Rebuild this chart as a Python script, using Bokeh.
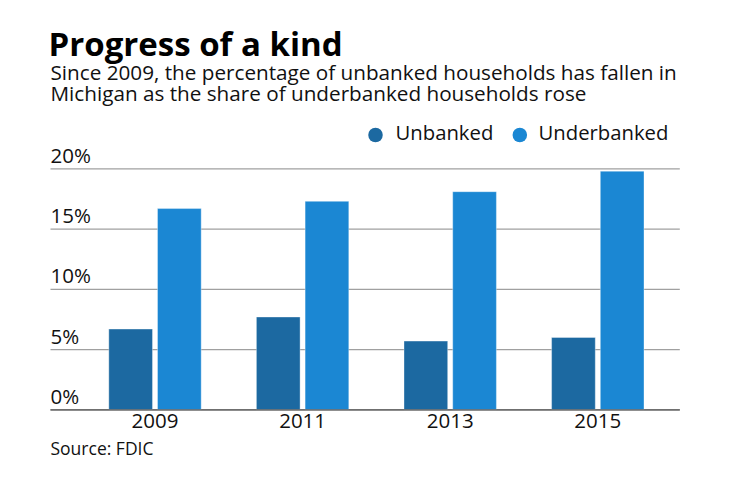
from bokeh.plotting import figure
from bokeh.models import Range1d, ColumnDataSource
from bokeh.core.properties import value
from bokeh.embed import file_html
from bokeh.resources import INLINE

# ---- data ----
years = ["2009", "2011", "2013", "2015"]
unbanked = [6.7, 7.7, 5.7, 6.0]
underbanked = [16.7, 17.3, 18.1, 19.8]
y_ticks = [0, 5, 10, 15, 20]
y_tick_labels = ["0%", "5%", "10%", "15%", "20%"]
series_names = ["Unbanked", "Underbanked"]
title_text = "Progress of a kind"
subtitle_lines = ["Since 2009, the percentage of unbanked households has fallen in",
                  "Michigan as the share of underbanked households rose"]
source_text = "Source: FDIC"

# ---- layout (screenshot pixel geometry) ----
W, H = 724, 466
GROUP0_PX = 154.5     # screenshot x of first group centre
GROUP_STEP = 147.6    # px per group
ZERO_PX = 409.3       # screenshot y of 0%
PX_PER_PCT = 12.05
SHIFT = 9             # correction for rendered text baseline position

def sx(px):
    return (px - GROUP0_PX) / GROUP_STEP

def sy_raw(py):
    return (ZERO_PX - py) / PX_PER_PCT

def sy(py):  # for text baselines
    return sy_raw(py - SHIFT)

FONT = "Open Sans"
C_UNB = "#1c69a1"
C_UND = "#1b87d3"
TEXT_C = "#111111"

p = figure(width=W, height=H, output_backend="svg", toolbar_location=None,
           x_range=Range1d(sx(0), sx(W)), y_range=Range1d(sy_raw(H), sy_raw(0)),
           x_axis_location=None, y_axis_location=None, min_border=0)
p.outline_line_color = None
p.grid.visible = False
p.background_fill_color = "white"
p.border_fill_color = "white"

x_left, x_right = sx(50), sx(679.3)
idx = list(range(len(years)))

# gridlines
grid_src = ColumnDataSource(dict(x0=[x_left] * len(y_ticks), x1=[x_right] * len(y_ticks),
                                 y=y_ticks,
                                 color=["#666666"] + ["#a0a0a0"] * (len(y_ticks) - 1)))
p.segment(x0="x0", x1="x1", y0="y", y1="y", color="color", line_width=1.3, source=grid_src)

# bars
bw = 0.296
off = 0.165
p.vbar(x=[i - off for i in idx], top=unbanked, bottom=0, width=bw,
       fill_color=C_UNB, line_color="white", line_alpha=0.35, line_width=1)
p.vbar(x=[i + off for i in idx], top=underbanked, bottom=0, width=bw,
       fill_color=C_UND, line_color="white", line_alpha=0.35, line_width=1)

# zero baseline over bars
p.segment(x0=[x_left], x1=[x_right], y0=[0], y1=[0], color="#666666", line_width=1.3)

# y tick labels (baseline ~5px above each gridline)
p.text(x=[sx(50)] * len(y_ticks), y=y_ticks, text=y_tick_labels, y_offset=-5 - SHIFT,
       text_font=value(FONT), text_font_size="20.5px", text_color=TEXT_C,
       text_align="left", text_baseline="alphabetic")

# x tick labels (baseline ~20px below zero)
p.text(x=idx, y=[0] * len(idx), text=years, y_offset=20 - SHIFT,
       text_font=value(FONT), text_font_size="20.5px", text_color=TEXT_C,
       text_align="center", text_baseline="alphabetic")

# title, subtitle
p.text(x=[sx(48)], y=[sy(51.7)], text=[title_text], text_font=value(FONT),
       text_font_size="33px", text_font_style="bold", text_color="#000000",
       text_baseline="alphabetic")
p.text(x=[sx(50), sx(50)], y=[sy(80), sy(101.7)], text=subtitle_lines, text_font=value(FONT),
       text_font_size="20.7px", text_color=TEXT_C, text_baseline="alphabetic")

# legend
p.scatter(x=[sx(375), sx(519.3)], y=[sy_raw(134.5), sy_raw(134.5)],
          size=14.5, fill_color=[C_UNB, C_UND], line_color=None, marker="circle")
p.text(x=[sx(395), sx(538)], y=[sy(140.7), sy(140.7)], text=series_names, text_font=value(FONT),
       text_font_size="20.3px", text_color=TEXT_C, text_baseline="alphabetic")

# source
p.text(x=[sx(50)], y=[sy(456.7)], text=[source_text], text_font=value(FONT),
       text_font_size="17.5px", text_color=TEXT_C, text_baseline="alphabetic")

open("out.html", "w").write(file_html(p, INLINE))
